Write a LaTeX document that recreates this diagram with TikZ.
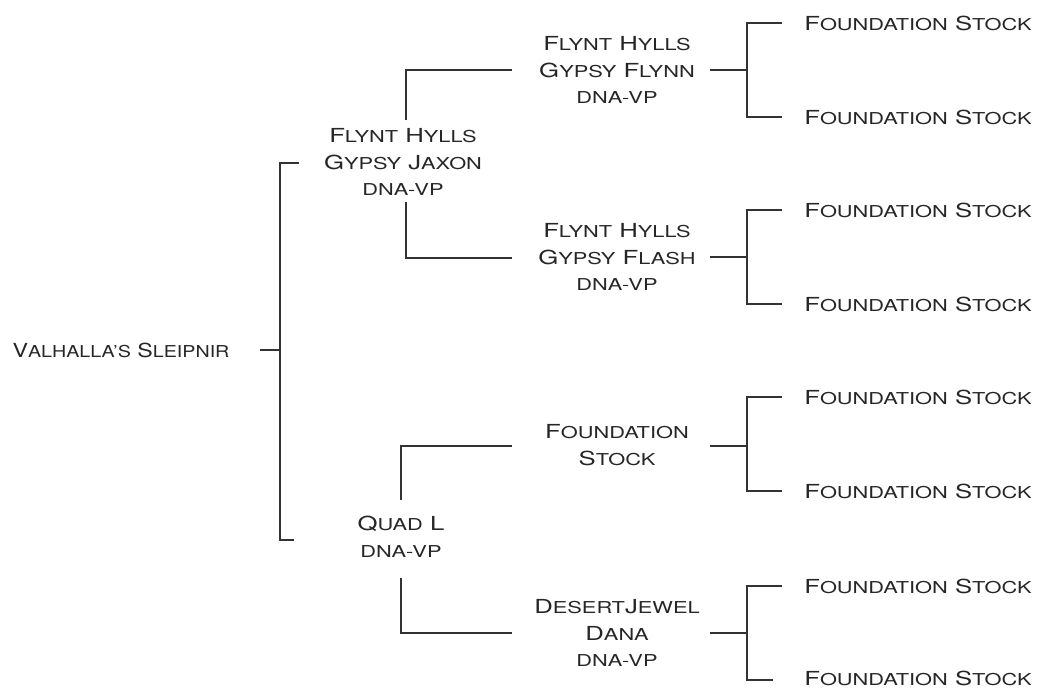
\documentclass[tikz,border=0pt]{standalone}
\usepackage{fontspec}
\setmainfont{TeX Gyre Heros}[FakeStretch=1.33]
\newcommand\smc[1]{{\fontsize{12.3}{20}\selectfont #1}}
\begin{document}
\begin{tikzpicture}[x=0.75pt,y=-0.75pt,
  link/.style={draw=black!80, line width=1.1pt},
  lbl/.style={font=\fontsize{14.5}{20}\selectfont, align=center, inner sep=0pt, text=black!85}]
\useasboundingbox (0,0) rectangle (1037,688);
% nodes
\node[lbl, font=\fontsize{14.5}{20}\selectfont\addfontfeatures{FakeStretch=1.2}] (root) at (121,350) {V\smc{ALHALLA'S} S\smc{LEIPNIR}};
\node[lbl] (jaxon) at (403,162) {F\smc{LYNT} H\smc{YLLS}\\G\smc{YPSY} J\smc{AXON}\\\smc{DNA-VP}};
\node[lbl] (quad)  at (401,537) {Q\smc{UAD} L\\\smc{DNA-VP}};
\node[lbl] (flynn) at (617,70)  {F\smc{LYNT} H\smc{YLLS}\\G\smc{YPSY} F\smc{LYNN}\\\smc{DNA-VP}};
\node[lbl] (flash) at (617,257) {F\smc{LYNT} H\smc{YLLS}\\G\smc{YPSY} F\smc{LASH}\\\smc{DNA-VP}};
\node[lbl] (fst)   at (617,445) {F\smc{OUNDATION}\\S\smc{TOCK}};
\node[lbl] (dana)  at (617,633) {D\smc{ESERT}J\smc{EWEL}\\D\smc{ANA}\\\smc{DNA-VP}};
\foreach \i/\y in {1/23,2/117,3/210,4/304,5/397,6/491,7/586,8/678}
  \node[lbl] (f\i) at (918,\y) {F\smc{OUNDATION} S\smc{TOCK}};
% root bracket
\coordinate (rm) at (280,350);
\draw[link] (260,350) -- (rm);
\draw[link] (299,163) -- (280,163) -- (280,540) -- (294,540);
% second generation brackets
\draw[link] (406,120) -- (406,70) -- (512,70);
\draw[link] (406,202) -- (406,258) -- (512,258);
\draw[link] (401,500) -- (401,446) -- (512,446);
\draw[link] (401,578) -- (401,633) -- (512,633);
% third generation brackets
\foreach \m/\t/\b/\e in {70/23/117/782,257/210/304/782,446/397/491/782,633/586/680/773}{
  \draw[link] (710,\m) -- (747,\m);
  \draw[link] (782,\t) -- (747,\t) -- (747,\b) -- (\e,\b);
}
\end{tikzpicture}
\end{document}
